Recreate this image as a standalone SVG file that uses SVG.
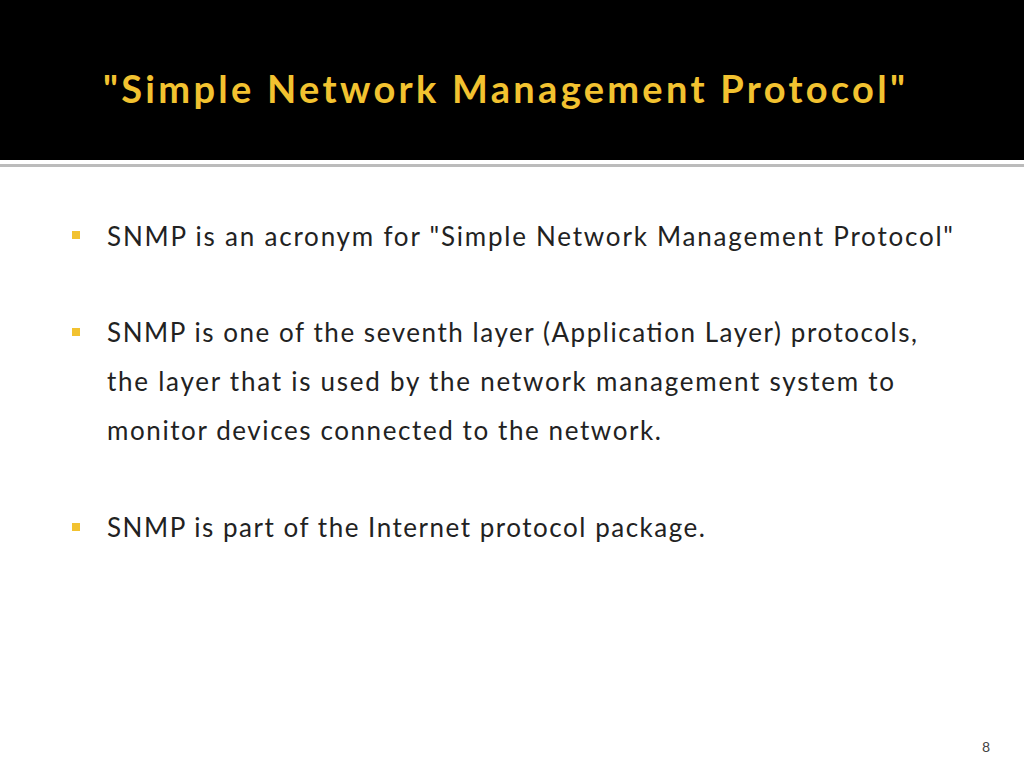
<svg xmlns="http://www.w3.org/2000/svg" width="1024" height="768" viewBox="0 0 1024 768">
<style>
.b{font-family:Lato,"Open Sans",sans-serif;font-size:26px;fill:#222}
.sq{fill:#f2c230}
</style>
<rect width="1024" height="768" fill="#fff"/>
<rect width="1024" height="160" fill="#000"/>
<rect y="164" width="1024" height="3" fill="#bbb"/>
<text x="103" y="103" font-family="Lato,sans-serif" font-weight="bold" font-size="38" fill="#f2c230" textLength="802">"Simple Network Management Protocol"</text>
<rect class="sq" x="72" y="231" width="8" height="8"/>
<rect class="sq" x="72" y="328" width="8" height="8"/>
<rect class="sq" x="72" y="523" width="8" height="8"/>
<text class="b" x="107" y="246" textLength="846">SNMP is an acronym for "Simple Network Management Protocol"</text>
<text class="b" x="107" y="342" textLength="810">SNMP is one of the seventh layer (Application Layer) protocols,</text>
<text class="b" x="107" y="391" textLength="787">the layer that is used  by the network management system to</text>
<text class="b" x="107" y="440" textLength="554">monitor devices connected to the network.</text>
<text class="b" x="107" y="537" textLength="598">SNMP is part of the Internet protocol package.</text>
<text x="982" y="752" font-family="Lato,sans-serif" font-size="14" fill="#444">8</text>
</svg>
